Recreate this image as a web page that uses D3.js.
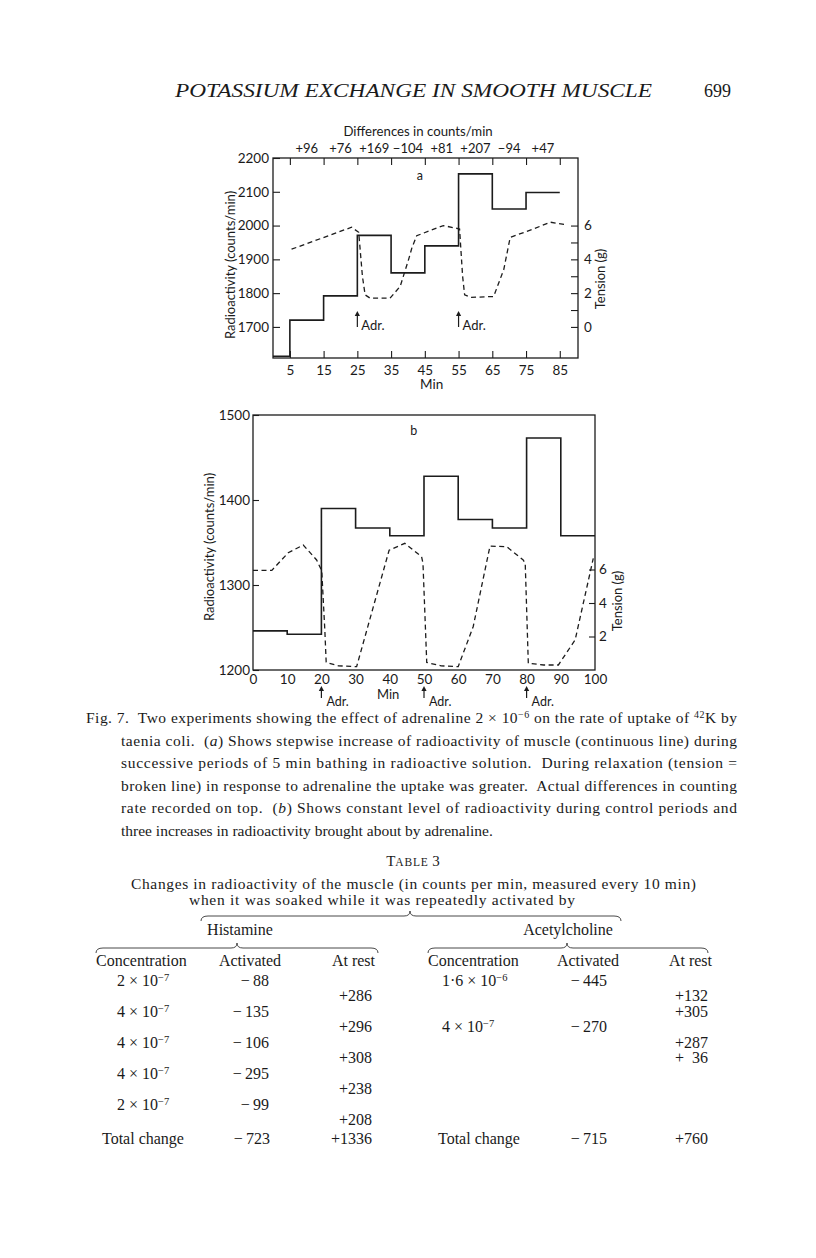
<!DOCTYPE html>
<html lang="en">
<head>
<meta charset="UTF-8">
<title>Fig. 7 - Potassium exchange in smooth muscle</title>
<script src="https://cdn.jsdelivr.net/npm/d3@7"></script>
<style>
  body { margin: 0; background: #fff; }
  svg text { fill: #1a1a1a; }
  .sans { font-family: Lato, "Open Sans", sans-serif; }
  .serif { font-family: "Liberation Serif", serif; }
</style>
</head>
<body>
<svg width="816" height="1258"></svg>
<script>
// ---------- chart a : step radioactivity + tension
var stepTimesA = [0, 5, 15, 25, 35, 45, 55, 65, 75, 85];      // period borders (min)
var countsA    = [1613, 1720, 1792, 1971, 1860, 1940, 2153, 2049, 2098];
var diffTimesA  = [10, 20, 30, 40, 50, 60, 70, 80];
var diffLabelsA = ['+96', '+76', '+169', '\u2212104', '+81', '+207', '\u221294', '+47'];
var xTicksA = [5, 15, 25, 35, 45, 55, 65, 75, 85];
var yTicksA = [1700, 1800, 1900, 2000, 2100, 2200];
var gTicksA = [0, 1, 2, 3, 4, 5, 6];
var tensionTimeA = [5.5, 23.3, 25.4, 26.5, 27.3, 28.8, 34.7, 37.7, 40.2, 41.2, 42.6, 50.5, 55.3, 56.2, 56.8, 58.5, 65.4, 68.4, 70.3, 77.2, 82.2, 87];
var tensionA     = [4.6, 5.9, 5.6, 3.0, 1.9, 1.7, 1.7, 2.4, 4.0, 4.7, 5.4, 6.0, 5.8, 3.0, 1.9, 1.75, 1.8, 3.4, 5.3, 5.8, 6.2, 6.05];
var adrTimesA = [25, 55];

// ---------- chart b
var stepTimesB = [0, 10, 20, 30, 40, 50, 60, 70, 80, 90, 100];
var countsB    = [1246, 1242, 1390, 1367, 1358, 1428, 1377, 1367, 1473, 1358];
var xTicksB = [0, 10, 20, 30, 40, 50, 60, 70, 80, 90, 100];
var yTicksB = [1200, 1300, 1400, 1500];
var gTicksB = [2, 4, 6];
var tensionTimeB = [0, 5.5, 10.3, 14.7, 18.6, 20.1, 21.0, 21.4, 25, 30.3, 39.8, 44.4, 49.3, 49.7, 50.8, 55, 60, 64.4, 69.3, 74.2, 79.0, 79.6, 80.5, 85, 89.3, 94.2, 99.5];
var tensionB     = [5.95, 5.95, 7.0, 7.46, 6.57, 5.93, 2.4, 0.45, 0.25, 0.2, 7.15, 7.56, 6.76, 6.37, 0.45, 0.25, 0.2, 2.6, 7.4, 7.36, 6.57, 6.37, 0.4, 0.3, 0.3, 1.8, 6.67];
var adrTimesB = [20, 50, 80];

// ---------- table 3
var histConc      = ['2', '4', '4', '4', '2'];
var histExp       = ['\u22127', '\u22127', '\u22127', '\u22127', '\u22127'];
var histActivated = [-88, -135, -106, -295, -99];
var histAtRest    = [286, 296, 308, 238, 208];
var histTotal     = [-723, 1336];
var achConc       = ['1\u00b76', '4'];
var achExp        = ['\u22126', '\u22127'];
var achActivated  = [-445, -270];
var achActRows    = [0, 3];
var achAtRest     = [132, 305, 287, 36];
var achRestRows   = [1, 2, 4, 5];
var achTotal      = [-715, 760];

var svg = d3.select('svg');
var ink = '#1c1c1c';
var fmt = d3.format('d');

// page header
svg.append('text').attr('class', 'serif').attr('x', 175).attr('y', 97)
  .attr('font-size', 19).attr('font-style', 'italic')
  .attr('textLength', 477).attr('lengthAdjust', 'spacingAndGlyphs')
  .text('POTASSIUM EXCHANGE IN SMOOTH MUSCLE');
svg.append('text').attr('class', 'serif').attr('x', 704).attr('y', 97)
  .attr('font-size', 18).text('699');

function styleAxis(g, size) {
  g.select('.domain').remove();
  g.attr('font-family', null).attr('font-size', size);
  g.selectAll('line').attr('stroke', ink).attr('stroke-width', 1.1);
}
function frame(g, x, y) {
  g.append('rect')
    .attr('x', x.range()[0]).attr('y', y.range()[1])
    .attr('width', x.range()[1] - x.range()[0])
    .attr('height', y.range()[0] - y.range()[1])
    .attr('fill', 'none').attr('stroke', ink).attr('stroke-width', 1.3);
}
function arrow(g, x, yBase, yTip) {
  g.append('line').attr('x1', x).attr('x2', x).attr('y1', yBase).attr('y2', yTip + 3)
    .attr('stroke', ink).attr('stroke-width', 1.2);
  g.append('path').attr('d', 'M' + (x - 2.6) + ',' + (yTip + 5) + 'L' + x + ',' + yTip + 'L' + (x + 2.6) + ',' + (yTip + 5) + 'Z')
    .attr('fill', ink);
}

// =============== chart a
var xA = d3.scaleLinear().domain([0, 90.4]).range([273, 578]);
var yA = d3.scaleLinear().domain([1608, 2200]).range([358, 158]);
var gA = d3.scaleLinear().domain([0, 6]).range([yA(1700), yA(2000)]);
var a = svg.append('g').attr('class', 'sans');

frame(a, xA, yA);
a.append('g').attr('transform', 'translate(' + xA.range()[0] + ',0)')
  .call(d3.axisLeft(yA).tickValues(yTicksA).tickFormat(fmt).tickSizeInner(-7).tickSizeOuter(0).tickPadding(4))
  .call(styleAxis, 13.5);
a.append('g').attr('transform', 'translate(0,' + yA.range()[0] + ')')
  .call(d3.axisBottom(xA).tickValues(xTicksA).tickFormat(fmt).tickSizeInner(-7).tickSizeOuter(0).tickPadding(7))
  .call(styleAxis, 13.5);
a.append('g').attr('transform', 'translate(0,' + yA.range()[1] + ')')
  .call(d3.axisTop(xA).tickValues(xTicksA).tickFormat('').tickSizeInner(-7).tickSizeOuter(0))
  .call(styleAxis, 13);
a.append('g').attr('transform', 'translate(' + xA.range()[1] + ',0)')
  .call(d3.axisRight(gA).tickValues(gTicksA).tickFormat(function (d) { return d % 2 ? '' : d; })
    .tickSizeInner(-7).tickSizeOuter(0).tickPadding(6))
  .call(styleAxis, 13.5);

a.selectAll('.diff').data(diffLabelsA).enter().append('text')
  .attr('x', function (d, i) { return xA(diffTimesA[i]); }).attr('y', 153)
  .attr('text-anchor', 'middle').attr('font-size', 13).text(function (d) { return d; });
a.append('text').attr('x', xA(43)).attr('y', 136).attr('text-anchor', 'middle')
  .attr('font-size', 13.2).text('Differences in counts/min');
a.append('text').attr('x', xA(43.5)).attr('y', 180).attr('text-anchor', 'middle')
  .attr('font-size', 12.5).text('a');
a.append('text').attr('x', xA(47)).attr('y', 389).attr('text-anchor', 'middle')
  .attr('font-size', 13.5).text('Min');
a.append('text').attr('transform', 'translate(235,265) rotate(-90)').attr('text-anchor', 'middle')
  .attr('font-size', 13).text('Radioactivity (counts/min)');
a.append('text').attr('transform', 'translate(605,279) rotate(-90)').attr('text-anchor', 'middle')
  .attr('font-size', 13).text('Tension (g)');

var stepPtsA = stepTimesA.map(function (t, i) { return [t, countsA[Math.min(i, countsA.length - 1)]]; });
a.append('path')
  .attr('d', d3.line().x(function (d) { return xA(d[0]); }).y(function (d) { return yA(d[1]); })
    .curve(d3.curveStepAfter)(stepPtsA))
  .attr('fill', 'none').attr('stroke', ink).attr('stroke-width', 1.6);
a.append('path')
  .attr('d', d3.line().x(function (d, i) { return xA(tensionTimeA[i]); }).y(function (d) { return gA(d); })(tensionA))
  .attr('fill', 'none').attr('stroke', ink).attr('stroke-width', 1.3).attr('stroke-dasharray', '5,3.5');

adrTimesA.forEach(function (t) {
  arrow(a, xA(t), 327, 311);
  a.append('text').attr('x', xA(t) + 4).attr('y', 330).attr('font-size', 13).text('Adr.');
});

// =============== chart b
var xB = d3.scaleLinear().domain([0, 100]).range([253, 595]);
var yB = d3.scaleLinear().domain([1200, 1500]).range([670, 415]);
var gB = d3.scaleLinear().domain([0, 6]).range([670, 569.5]);
var b = svg.append('g').attr('class', 'sans');

frame(b, xB, yB);
b.append('g').attr('transform', 'translate(' + xB.range()[0] + ',0)')
  .call(d3.axisLeft(yB).tickValues(yTicksB).tickFormat(fmt).tickSizeInner(-6).tickSizeOuter(0).tickPadding(3))
  .call(styleAxis, 13.5);
b.append('g').attr('transform', 'translate(0,' + yB.range()[0] + ')')
  .call(d3.axisBottom(xB).tickValues(xTicksB).tickFormat(fmt).tickSizeInner(0).tickSizeOuter(0).tickPadding(4))
  .call(styleAxis, 13.5);
b.append('g').attr('transform', 'translate(' + xB.range()[1] + ',0)')
  .call(d3.axisRight(gB).tickValues(gTicksB).tickFormat(fmt).tickSizeInner(-6).tickSizeOuter(0).tickPadding(4))
  .call(styleAxis, 13.5);

b.append('text').attr('x', xB(47)).attr('y', 435).attr('text-anchor', 'middle')
  .attr('font-size', 12.5).text('b');
b.append('text').attr('x', xB(39.5)).attr('y', 699).attr('text-anchor', 'middle')
  .attr('font-size', 13).text('Min');
b.append('text').attr('transform', 'translate(214,547) rotate(-90)').attr('text-anchor', 'middle')
  .attr('font-size', 13).text('Radioactivity (counts/min)');
b.append('text').attr('transform', 'translate(622,601) rotate(-90)').attr('text-anchor', 'middle')
  .attr('font-size', 13).text('Tension (g)');

var stepPtsB = stepTimesB.map(function (t, i) { return [t, countsB[Math.min(i, countsB.length - 1)]]; });
b.append('path')
  .attr('d', d3.line().x(function (d) { return xB(d[0]); }).y(function (d) { return yB(d[1]); })
    .curve(d3.curveStepAfter)(stepPtsB))
  .attr('fill', 'none').attr('stroke', ink).attr('stroke-width', 1.6);
b.append('path')
  .attr('d', d3.line().x(function (d, i) { return xB(tensionTimeB[i]); }).y(function (d) { return gB(d); })(tensionB))
  .attr('fill', 'none').attr('stroke', ink).attr('stroke-width', 1.3).attr('stroke-dasharray', '5,3.5');

adrTimesB.forEach(function (t) {
  arrow(b, xB(t), 698, 686);
  b.append('text').attr('x', xB(t) + 5).attr('y', 706).attr('font-size', 12.5).text('Adr.');
});

// =============== caption
var caption = [
  [['Fig. 7.  Two experiments showing the effect of adrenaline 2 \u00d7 10'], ['\u22126', 's'], [' on the rate of uptake of '], ['42', 's'], ['K by']],
  [['taenia coli.  ('], ['a', 'i'], [') Shows stepwise increase of radioactivity of muscle (continuous line) during']],
  [['successive periods of 5 min bathing in radioactive solution.  During relaxation (tension =']],
  [['broken line) in response to adrenaline the uptake was greater.  Actual differences in counting']],
  [['rate recorded on top.  ('], ['b', 'i'], [') Shows constant level of radioactivity during control periods and']],
  [['three increases in radioactivity brought about by adrenaline.']]
];
caption.forEach(function (line, i) {
  var x0 = i === 0 ? 86 : 121;
  var t = svg.append('text').attr('class', 'serif').attr('x', x0).attr('y', 723 + i * 22.6)
    .attr('font-size', 15.5).style('white-space', 'pre');
  if (i < 5) t.attr('textLength', 737 - x0).attr('lengthAdjust', 'spacing');
  line.forEach(function (seg) {
    var s = t.append('tspan').text(seg[0]);
    if (seg[1] === 'i') s.attr('font-style', 'italic');
    if (seg[1] === 's') s.attr('baseline-shift', 'super').attr('font-size', 10);
  });
});

// =============== table 3
var tb = svg.append('g').attr('class', 'serif').attr('font-size', 16);
function num(v) {
  if (v < 0) return '\u2212\u2009' + (-v);
  return v < 100 ? '+\u2007' + v : '+' + v;
}
function conc(g, x, y, m, e) {
  var t = g.append('text').attr('x', x).attr('y', y);
  t.append('tspan').text(m + ' \u00d7 10');
  t.append('tspan').attr('baseline-shift', 'super').attr('font-size', 10.5).text(e);
}
var tt = tb.append('text').attr('x', 413).attr('y', 866).attr('text-anchor', 'middle');
tt.append('tspan').attr('font-size', 15).text('T');
tt.append('tspan').attr('font-size', 11.5).attr('letter-spacing', 0.8).text('ABLE');
tt.append('tspan').attr('font-size', 15).text(' 3');
tb.append('text').attr('x', 131).attr('y', 889).attr('font-size', 15.5).attr('textLength', 565).attr('lengthAdjust', 'spacing')
  .text('Changes in radioactivity of the muscle (in counts per min, measured every 10 min)');
tb.append('text').attr('x', 189).attr('y', 905).attr('font-size', 15.5).attr('textLength', 386).attr('lengthAdjust', 'spacing')
  .text('when it was soaked while it was repeatedly activated by');

function brace(g, x1, x2, xm, y) {
  var p = 'M' + x1 + ',' + (y + 5) + 'Q' + x1 + ',' + y + ' ' + (x1 + 7) + ',' + y +
    'L' + (xm - 6) + ',' + y + 'Q' + xm + ',' + y + ' ' + xm + ',' + (y - 5) +
    'Q' + xm + ',' + y + ' ' + (xm + 6) + ',' + y +
    'L' + (x2 - 7) + ',' + y + 'Q' + x2 + ',' + y + ' ' + x2 + ',' + (y + 5);
  g.append('path').attr('d', p).attr('fill', 'none').attr('stroke', '#333').attr('stroke-width', 0.9);
}
brace(tb, 201, 621, 410, 916);
brace(tb, 96, 378, 237, 948);
brace(tb, 428, 708, 567, 948);

tb.append('text').attr('x', 240).attr('y', 935).attr('text-anchor', 'middle').text('Histamine');
tb.append('text').attr('x', 568).attr('y', 935).attr('text-anchor', 'middle').text('Acetylcholine');

var headY = 966;
tb.append('text').attr('x', 96).attr('y', headY).text('Concentration');
tb.append('text').attr('x', 250).attr('y', headY).attr('text-anchor', 'middle').text('Activated');
tb.append('text').attr('x', 375).attr('y', headY).attr('text-anchor', 'end').text('At rest');
tb.append('text').attr('x', 428).attr('y', headY).text('Concentration');
tb.append('text').attr('x', 588).attr('y', headY).attr('text-anchor', 'middle').text('Activated');
tb.append('text').attr('x', 712).attr('y', headY).attr('text-anchor', 'end').text('At rest');

var rowY = d3.scaleLinear().domain([0, 9]).range([986, 1125]);
histConc.forEach(function (m, i) {
  conc(tb, 117, rowY(2 * i), m, histExp[i]);
  tb.append('text').attr('x', 269).attr('y', rowY(2 * i)).attr('text-anchor', 'end').text(num(histActivated[i]));
  tb.append('text').attr('x', 372).attr('y', rowY(2 * i + 1)).attr('text-anchor', 'end').text(num(histAtRest[i]));
});
achConc.forEach(function (m, i) {
  conc(tb, 442, rowY(achActRows[i]), m, achExp[i]);
  tb.append('text').attr('x', 607).attr('y', rowY(achActRows[i])).attr('text-anchor', 'end').text(num(achActivated[i]));
});
achAtRest.forEach(function (v, i) {
  tb.append('text').attr('x', 708).attr('y', rowY(achRestRows[i])).attr('text-anchor', 'end').text(num(v));
});
var totY = 1144;
tb.append('text').attr('x', 102).attr('y', totY).text('Total change');
tb.append('text').attr('x', 270).attr('y', totY).attr('text-anchor', 'end').text(num(histTotal[0]));
tb.append('text').attr('x', 372).attr('y', totY).attr('text-anchor', 'end').text(num(histTotal[1]));
tb.append('text').attr('x', 438).attr('y', totY).text('Total change');
tb.append('text').attr('x', 607).attr('y', totY).attr('text-anchor', 'end').text(num(achTotal[0]));
tb.append('text').attr('x', 708).attr('y', totY).attr('text-anchor', 'end').text(num(achTotal[1]));
</script>
</body>
</html>
